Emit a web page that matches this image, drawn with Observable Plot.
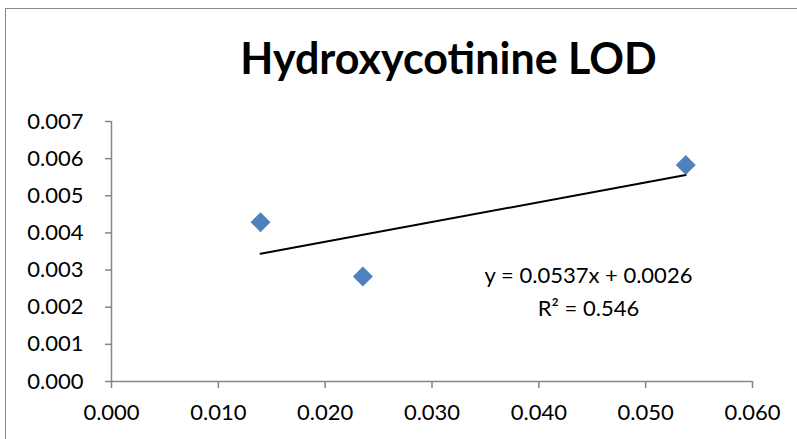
<!DOCTYPE html>
<html>
<head>
<meta charset="utf-8">
<script src="https://cdn.jsdelivr.net/npm/d3@7"></script>
<script src="https://cdn.jsdelivr.net/npm/@observablehq/plot@0.6"></script>
<style>
  html, body { margin: 0; padding: 0; background: #fff; overflow: hidden; }
  #frame { position: absolute; left: 5px; top: 8px; width: 830px; height: 470px; border: 1.5px solid #8a8a8a; box-sizing: border-box; }
  #chart { position: absolute; left: 0; top: 0; width: 797px; height: 439px; }
  #title { height: 100px; box-sizing: border-box; padding-top: 36px; padding-left: 100px; line-height: 43px;
           font-family: Lato, "Open Sans", sans-serif; font-weight: bold; font-size: 43px; text-align: center; color: #000; white-space: nowrap; }
</style>
</head>
<body>
<div id="frame"></div>
<div id="chart">
  <div id="title"></div>
  <div id="plot"></div>
</div>
<script>
// ---- data ----
const xValues = [0.01395, 0.02353, 0.05375];
const yValues = [0.00429, 0.00283, 0.00583];
const xTicks = [0, 0.01, 0.02, 0.03, 0.04, 0.05, 0.06];
const yTicks = [0, 0.001, 0.002, 0.003, 0.004, 0.005, 0.006, 0.007];
const titleText = "Hydroxycotinine LOD";
const equationText = "y = 0.0537x + 0.0026";
const r2Text = "R² = 0.546";

const points = xValues.map((x, i) => ({x, y: yValues[i]}));
const fmt = d3.format(".3f");
const axisGray = "#868686";

document.getElementById("title").textContent = titleText;

const chart = Plot.plot({
  width: 797,
  height: 339,
  marginLeft: 111,
  marginRight: 45,
  marginTop: 21,
  marginBottom: 58,
  style: {fontFamily: "Lato, 'Open Sans', sans-serif", fontSize: "22px", color: "#000", background: "transparent", overflow: "visible"},
  x: {domain: [0, 0.06], label: null},
  y: {domain: [0, 0.007], label: null},
  marks: [
    Plot.ruleY([0], {stroke: axisGray, strokeWidth: 1.5}),
    Plot.ruleX([0], {stroke: axisGray, strokeWidth: 1.5}),
    Plot.axisX({ticks: xTicks, tickFormat: fmt, tickSize: 7, tickPadding: 16, stroke: axisGray, strokeWidth: 1.5, fill: "#000", label: null, fontSize: 22}),
    Plot.axisY({ticks: yTicks, tickFormat: fmt, tickSize: 6, tickPadding: 22, stroke: axisGray, strokeWidth: 1.5, fill: "#000", label: null, fontSize: 22}),
    Plot.linearRegressionY(points, {x: "x", y: "y", ci: 0, stroke: "#000", strokeWidth: 2}),
    Plot.dot(points, {x: "x", y: "y", symbol: "diamond2", r: 9, fill: "#4F81BD", stroke: "none"}),
    Plot.text([equationText + "\n" + r2Text], {frameAnchor: "top", dx: 156.5, dy: 138, lineAnchor: "top", lineHeight: 1.5, fontSize: 22, fill: "#000"})
  ]
});
document.getElementById("plot").appendChild(chart);
</script>
</body>
</html>
